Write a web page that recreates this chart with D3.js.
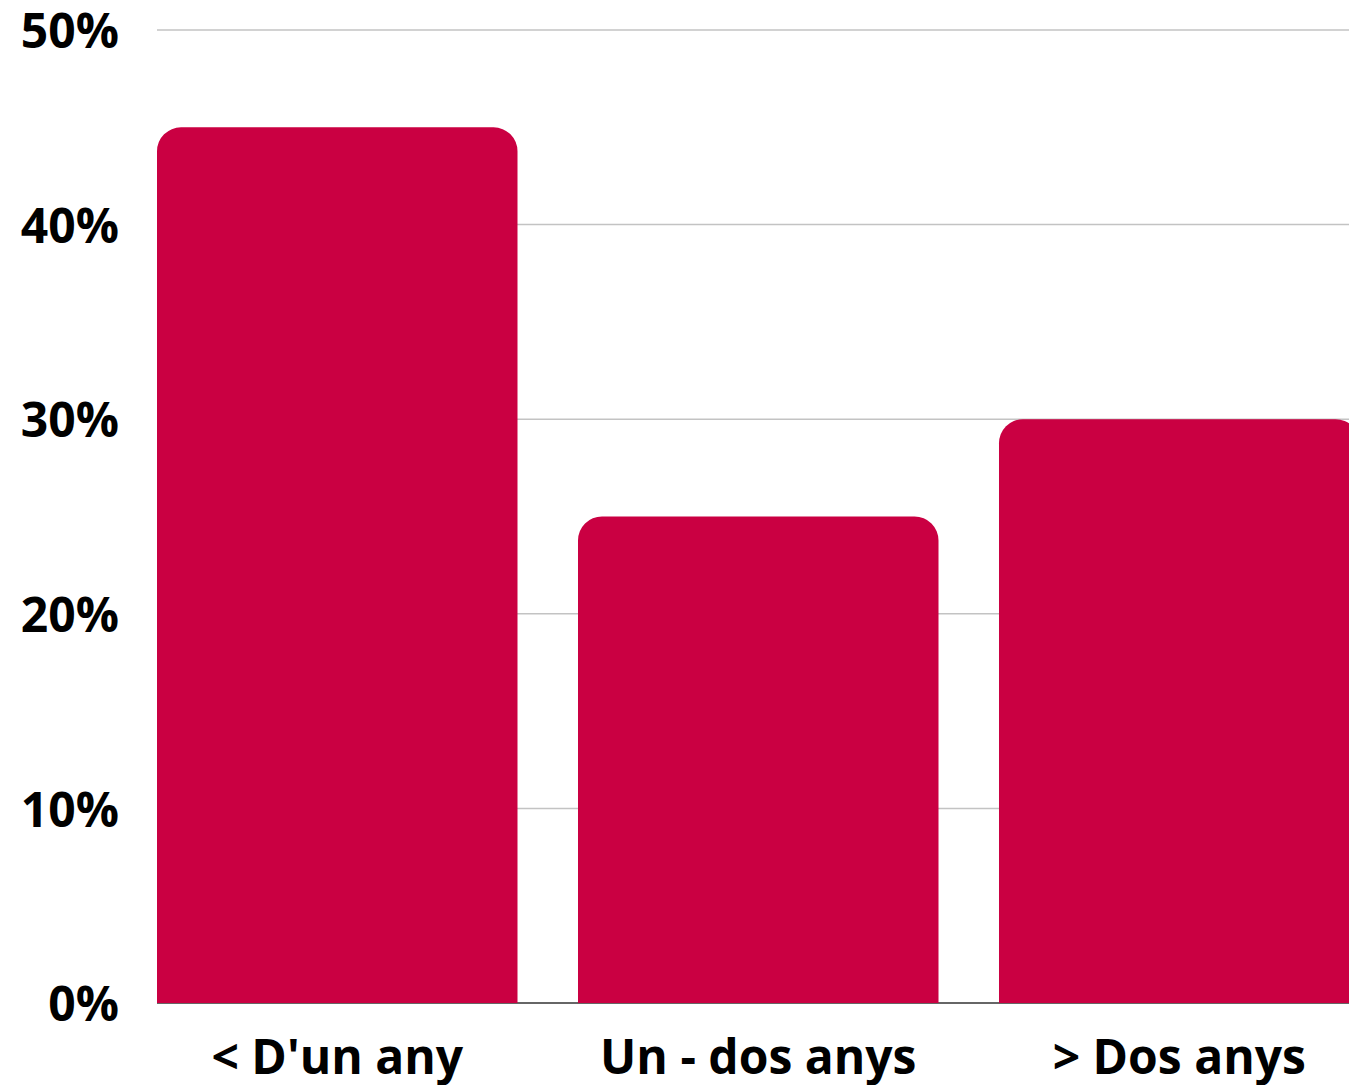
<!DOCTYPE html>
<html>
<head>
<meta charset="utf-8">
<script src="https://cdn.jsdelivr.net/npm/d3@7"></script>
<style>
  html, body { margin: 0; padding: 0; background: #fff; overflow: hidden; }
  svg { display: block; }
  text { font-family: "Open Sans", sans-serif; font-weight: 700; fill: #000; }
</style>
</head>
<body>
<svg id="chart" width="1349" height="1085"></svg>
<script>
const categories = ["< D'un any", "Un - dos anys", "> Dos anys"];
const values = [45, 25, 30];
const yTicks = [0, 10, 20, 30, 40, 50];
const yTickLabels = ["0%", "10%", "20%", "30%", "40%", "50%"];

const W = 1349, H = 1085;
const svg = d3.select("#chart");

const x = d3.scaleBand()
  .domain(categories)
  .range([157, 1359.5])
  .paddingInner(0.1437)
  .paddingOuter(0);

const y = d3.scaleLinear().domain([0, 50]).range([1003, 30]);

// gridlines
svg.append("g").selectAll("line")
  .data(yTicks.filter(d => d > 0))
  .join("line")
  .attr("x1", 157).attr("x2", W)
  .attr("y1", d => y(d)).attr("y2", d => y(d))
  .attr("stroke", "#c3c3c3").attr("stroke-width", 1.5);

// baseline
svg.append("line")
  .attr("x1", 157).attr("x2", W)
  .attr("y1", y(0)).attr("y2", y(0))
  .attr("stroke", "#666").attr("stroke-width", 2);

// bars with rounded top corners
const r = 24;
function topRounded(x0, y0, w, h, rad) {
  const rr = Math.min(rad, w / 2, h);
  return `M${x0},${y0 + h}` +
    `V${y0 + rr}` +
    `A${rr},${rr} 0 0 1 ${x0 + rr},${y0}` +
    `H${x0 + w - rr}` +
    `A${rr},${rr} 0 0 1 ${x0 + w},${y0 + rr}` +
    `V${y0 + h}Z`;
}
svg.append("g").selectAll("path")
  .data(categories.map((c, i) => ({ c, v: values[i] })))
  .join("path")
  .attr("d", d => topRounded(x(d.c), y(d.v), x.bandwidth(), y(0) - y(d.v), r))
  .attr("fill", "#ca0042");

// y axis labels
svg.append("g").selectAll("text")
  .data(yTicks)
  .join("text")
  .attr("x", 119)
  .attr("y", d => y(d))
  .attr("dy", "0.38em")
  .attr("text-anchor", "end")
  .attr("font-size", 48)
  .text((d, i) => yTickLabels[i]);

// x axis labels
svg.append("g").selectAll("text")
  .data(categories)
  .join("text")
  .attr("x", d => x(d) + x.bandwidth() / 2)
  .attr("y", 1074)
  .attr("text-anchor", "middle")
  .attr("font-size", 48)
  .text(d => d);
</script>
</body>
</html>
